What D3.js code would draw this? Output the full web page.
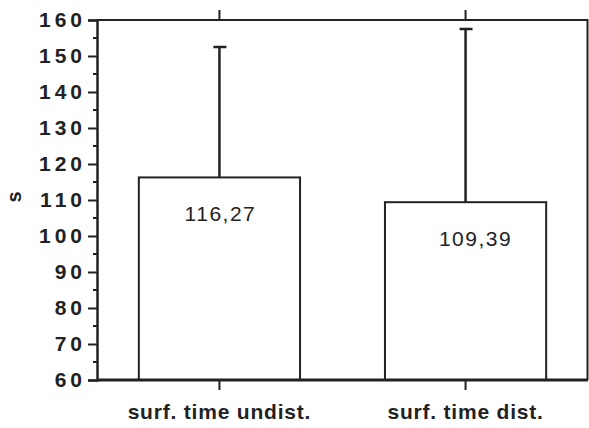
<!DOCTYPE html>
<html>
<head>
<meta charset="utf-8">
<script src="https://cdn.jsdelivr.net/npm/d3@7"></script>
<style>
  body { margin: 0; background: #fff; }
  text { font-family: "Liberation Sans", Arial, sans-serif; fill: #222; }
</style>
</head>
<body>
<div id="chart"></div>
<script>
// data
var categories = ["surf. time undist.", "surf. time dist."];
var means = [116.27, 109.39];
var upper = [152.5, 157.5];
var valueLabels = ["116,27", "109,39"];
var yTicks = [60, 70, 80, 90, 100, 110, 120, 130, 140, 150, 160];

var W = 589, H = 428;
var margin = {top: 20, right: 1, bottom: 48, left: 97};

var svg = d3.select("#chart").append("svg")
    .attr("width", W)
    .attr("height", H);

var x = d3.scaleBand()
    .domain(categories)
    .range([margin.left, W - margin.right])
    .paddingInner(0.345)
    .paddingOuter(0.17);

var y = d3.scaleLinear()
    .domain([60, 160])
    .range([H - margin.bottom, margin.top]);

// frame top and right
svg.append("path")
    .attr("d", "M" + margin.left + "," + y(160) + "H" + (W - margin.right - 0.5) + "V" + y(60))
    .attr("fill", "none")
    .attr("stroke", "#222")
    .attr("stroke-width", 2);

// bars
svg.selectAll(".bar")
    .data(means)
    .enter()
    .append("rect")
    .attr("class", "bar")
    .attr("x", function (d, i) { return x(categories[i]); })
    .attr("y", function (d) { return y(d); })
    .attr("width", x.bandwidth())
    .attr("height", function (d) { return y(60) - y(d); })
    .attr("fill", "#fff")
    .attr("stroke", "#222")
    .attr("stroke-width", 2);

// error bars (upper whisker)
svg.selectAll(".err")
    .data(upper)
    .enter()
    .append("line")
    .attr("class", "err")
    .attr("x1", function (d, i) { return x(categories[i]) + x.bandwidth() / 2; })
    .attr("x2", function (d, i) { return x(categories[i]) + x.bandwidth() / 2; })
    .attr("y1", function (d, i) { return y(means[i]); })
    .attr("y2", function (d) { return y(d); })
    .attr("stroke", "#222")
    .attr("stroke-width", 2.5);

svg.selectAll(".cap")
    .data(upper)
    .enter()
    .append("line")
    .attr("class", "cap")
    .attr("x1", function (d, i) { return x(categories[i]) + x.bandwidth() / 2 - 6; })
    .attr("x2", function (d, i) { return x(categories[i]) + x.bandwidth() / 2 + 7; })
    .attr("y1", function (d) { return y(d); })
    .attr("y2", function (d) { return y(d); })
    .attr("stroke", "#222")
    .attr("stroke-width", 2.5);

// value labels inside bars
var labelDx = [1, 10];
svg.selectAll(".val")
    .data(valueLabels)
    .enter()
    .append("text")
    .attr("class", "val")
    .attr("x", function (d, i) { return x(categories[i]) + x.bandwidth() / 2 + labelDx[i]; })
    .attr("y", function (d, i) { return y(means[i]) + 44; })
    .attr("text-anchor", "middle")
    .attr("font-size", 21)
    .attr("letter-spacing", 1.5)
    .text(function (d) { return d; });

// y axis
var yAxis = svg.append("g")
    .attr("transform", "translate(" + margin.left + ",0)")
    .call(d3.axisLeft(y).tickValues(yTicks).tickSize(9).tickPadding(2).tickFormat(d3.format("d")));
yAxis.select(".domain").attr("stroke", "#222").attr("stroke-width", 2.5);
yAxis.selectAll(".tick line").attr("stroke", "#222").attr("stroke-width", 2);
yAxis.selectAll(".tick text")
    .attr("font-size", 21)
    .attr("font-weight", "bold")
    .attr("letter-spacing", 4)
    .attr("fill", "#222")
    .style("font-family", "'Liberation Sans', Arial, sans-serif");

// minor ticks
svg.append("g")
    .selectAll("line")
    .data(d3.range(65, 160, 10))
    .enter()
    .append("line")
    .attr("x1", margin.left - 4)
    .attr("x2", margin.left)
    .attr("y1", function (d) { return y(d); })
    .attr("y2", function (d) { return y(d); })
    .attr("stroke", "#222")
    .attr("stroke-width", 2);

// x axis
var xAxis = svg.append("g")
    .attr("transform", "translate(0," + y(60) + ")")
    .call(d3.axisBottom(x).tickSize(10).tickPadding(14));
xAxis.select(".domain").remove();
xAxis.selectAll(".tick line").attr("stroke", "#222").attr("stroke-width", 2);
xAxis.selectAll(".tick text")
    .attr("font-size", 21)
    .attr("font-weight", "bold")
    .attr("letter-spacing", 0.8)
    .attr("fill", "#222")
    .style("font-family", "'Liberation Sans', Arial, sans-serif");

svg.append("line")
    .attr("x1", margin.left)
    .attr("x2", W - margin.right)
    .attr("y1", y(60))
    .attr("y2", y(60))
    .attr("stroke", "#222")
    .attr("stroke-width", 3);

// top ticks at category positions
svg.append("g")
    .selectAll("line")
    .data(categories)
    .enter()
    .append("line")
    .attr("x1", function (d) { return x(d) + x.bandwidth() / 2; })
    .attr("x2", function (d) { return x(d) + x.bandwidth() / 2; })
    .attr("y1", y(160))
    .attr("y2", y(160) - 10)
    .attr("stroke", "#222")
    .attr("stroke-width", 2);

// y title
svg.append("text")
    .attr("transform", "translate(21,197) rotate(-90)")
    .attr("text-anchor", "middle")
    .attr("font-size", 20)
    .attr("font-weight", "bold")
    .text("s");
</script>
</body>
</html>
